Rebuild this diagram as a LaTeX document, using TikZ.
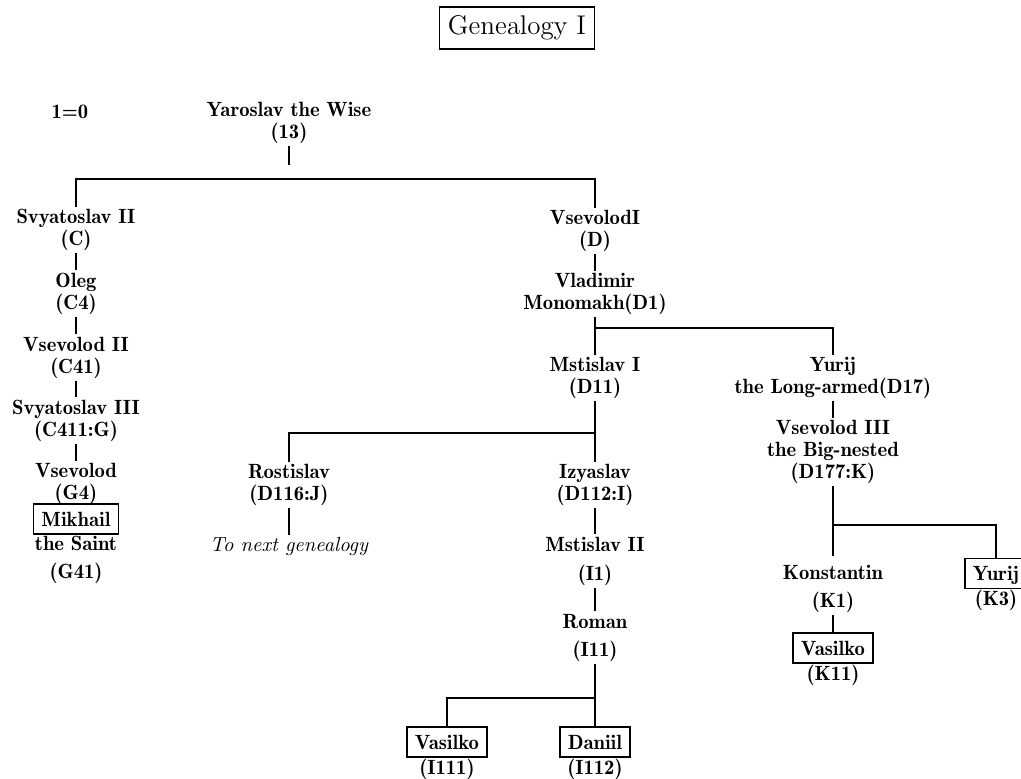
\documentclass[tikz,border=0pt]{standalone}
\font\nmf=cmb10 at 10.3pt
\font\itf=cmti10 at 10.2pt
\font\ttf=cmr12 at 13.5pt
\newcommand\nmfont{\nmf\baselineskip=11pt\relax}
\newcommand\itfont{\itf\baselineskip=11pt\relax}
\newcommand\ttlfont{\ttf}
\tikzset{
  conn/.style={line width=0.8pt},
  person/.style={align=center, inner sep=1pt, font=\nmfont},
  kbox/.style={draw, line width=0.8pt, inner xsep=4pt, inner ysep=4pt, text height=7pt, text depth=0pt, font=\nmfont},
  lab/.style={font=\nmfont, inner sep=0.3pt, anchor=north, align=center},
}
\begin{document}
\begin{tikzpicture}[x=0.5pt, y=-0.5pt]
\useasboundingbox (0,0) rectangle (1021,778);
% title
\node[draw, line width=0.8pt, inner xsep=4.25pt, inner ysep=4.5pt, font=\ttlfont] (title) at (517,28) {Genealogy I};
\node[font=\nmfont] (eq) at (70,112) {1=0};
% persons
\node[person] (yar) at (289,123) {Yaroslav the Wise\\(13)};
\coordinate (ystub) at (289,165);
\coordinate (b1) at (289,179);
\node[person] (sv2) at (76,230) {Svyatoslav II\\(C)};
\node[person] (oleg) at (76,293.5) {Oleg\\(C4)};
\node[person] (vs2) at (76,357.5) {Vsevolod II\\(C41)};
\node[person] (sv3) at (76,420.5) {Svyatoslav III\\(C411:G)};
\node[person] (vsev) at (76,484) {Vsevolod\\(G4)};
\node[kbox] (mikh) at (76,519) {Mikhail};
\node[lab] (saint) at (mikh.south) {the Saint\\[3pt](G41)};
\node[person] (vs1) at (595,231) {VsevolodI\\(D)};
\node[person] (mono) at (595,294) {Vladimir\\Monomakh(D1)};
\coordinate (b2) at (595,328);
\node[person] (mst1) at (595,378) {Mstislav I\\(D11)};
\node[person] (yurij) at (833,378) {Yurij\\the Long-armed(D17)};
\node[person] (vs3) at (833,452) {Vsevolod III\\the Big-nested\\(D177:K)};
\coordinate (b3) at (595,433);
\node[person] (rost) at (289,485) {Rostislav\\(D116:J)};
\node[person, font=\itfont] (next) at (289,546) {To next genealogy};
\node[person] (izy) at (595,485) {Izyaslav\\(D112:I)};
\node[person] (mst2) at (595,561) {Mstislav II\\[3.5pt](I1)};
\node[person] (roman) at (595,637.5) {Roman\\[3pt](I11)};
\coordinate (b4) at (595,698);
\node[kbox] (vas1) at (447,742) {Vasilko};
\node[lab] (vas1l) at (vas1.south) {(I111)};
\node[kbox] (dan) at (595,742) {Daniil};
\node[lab] (danl) at (dan.south) {(I112)};
\coordinate (b5) at (833,525);
\node[person] (konst) at (833,588.5) {Konstantin\\[3pt](K1)};
\node[kbox] (vas2) at (833,648) {Vasilko};
\node[lab] (vas2l) at (vas2.south) {(K11)};
\node[kbox, minimum width=31pt] (yurk) at (996,573.5) {Yurij};
\node[lab] (yurkl) at (yurk.south) {(K3)};
% connectors
\draw[conn] (yar) -- (ystub);
\draw[conn] (sv2.north) |- (vs1.north |- b1) -- (vs1.north);
\draw[conn] (sv2) -- (oleg);
\draw[conn] (oleg) -- (vs2);
\draw[conn] (vs2) -- (sv3);
\draw[conn] (sv3) -- (vsev);
\draw[conn] (vs1) -- (mono);
\draw[conn] (mono) -- (mst1);
\draw[conn] (b2) -| (yurij.north);
\draw[conn] (yurij) -- (vs3);
\draw[conn] (mst1) -- (izy);
\draw[conn] (b3) -| (rost.north);
\draw[conn] (rost) -- (next);
\draw[conn] (izy) -- (mst2);
\draw[conn] (mst2) -- (roman);
\draw[conn] (roman) -- (dan);
\draw[conn] (b4) -| (vas1.north);
\draw[conn, shorten >=3pt] (vs3) -- (konst);
\draw[conn] (b5) -| (yurk.north);
\draw[conn] (konst) -- (vas2);
\end{tikzpicture}
\end{document}
